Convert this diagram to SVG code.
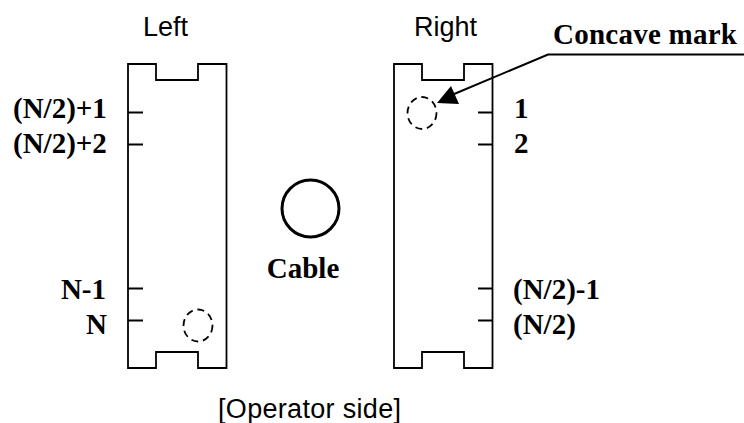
<svg xmlns="http://www.w3.org/2000/svg" width="744" height="423" viewBox="0 0 744 423">
<style>
.b{fill:none;stroke:#000;stroke-width:1.800}
.d{fill:none;stroke:#000;stroke-width:1.800;stroke-dasharray:7 4.800}
.s{font-family:"Liberation Sans",Arial,sans-serif;font-size:27px;fill:#000}
.t{font-family:"Liberation Serif","Times New Roman",serif;font-size:29px;font-weight:bold;fill:#000}
</style>
<rect width="744" height="423" fill="#fff"/>
<g id="left">
<path class="b" d="M128 64H156V80H198V64H226.500V368H198V352H156V368H128Z"/>
<path class="b" d="M128 112.500H143M128 144.500H143M128 288.500H143M128 320.500H143"/>
<ellipse class="d" cx="198" cy="325.500" rx="14.500" ry="16"/>
<text class="s" x="165.500" y="36" text-anchor="middle">Left</text>
<text class="t" x="13" y="118">(N/2)+1</text>
<text class="t" x="13" y="153">(N/2)+2</text>
<text class="t" x="106" y="299" text-anchor="end">N-1</text>
<text class="t" x="107" y="334" text-anchor="end">N</text>
</g>
<g id="right">
<path class="b" d="M394 64H422V80H464V64H492.500V368H464V352H422V368H394Z"/>
<path class="b" d="M478 112.500H492.500M478 144.500H492.500M478 288.500H492.500M478 320.500H492.500"/>
<ellipse class="d" cx="422" cy="113" rx="14.500" ry="16"/>
<text class="s" x="445.500" y="36" text-anchor="middle">Right</text>
<text class="t" x="514" y="118">1</text>
<text class="t" x="514" y="153">2</text>
<text class="t" x="513" y="299">(N/2)-1</text>
<text class="t" x="513" y="334">(N/2)</text>
</g>
<g id="cable">
<circle cx="310.500" cy="208.500" r="28.500" fill="none" stroke="#000" stroke-width="3"/>
<text class="t" x="303" y="278" text-anchor="middle">Cable</text>
</g>
<g id="operator-side">
<text class="s" x="218" y="417.500" textLength="183">[Operator side]</text>
</g>
<g id="concave-mark">
<text class="t" x="553" y="44" textLength="184">Concave mark</text>
</g>
<g id="connectors">
<path d="M744 54.500H548L447 97" fill="none" stroke="#000" stroke-width="2"/>
<polygon points="437,103 451,86 459,104" fill="#000"/>
</g>
</svg>
